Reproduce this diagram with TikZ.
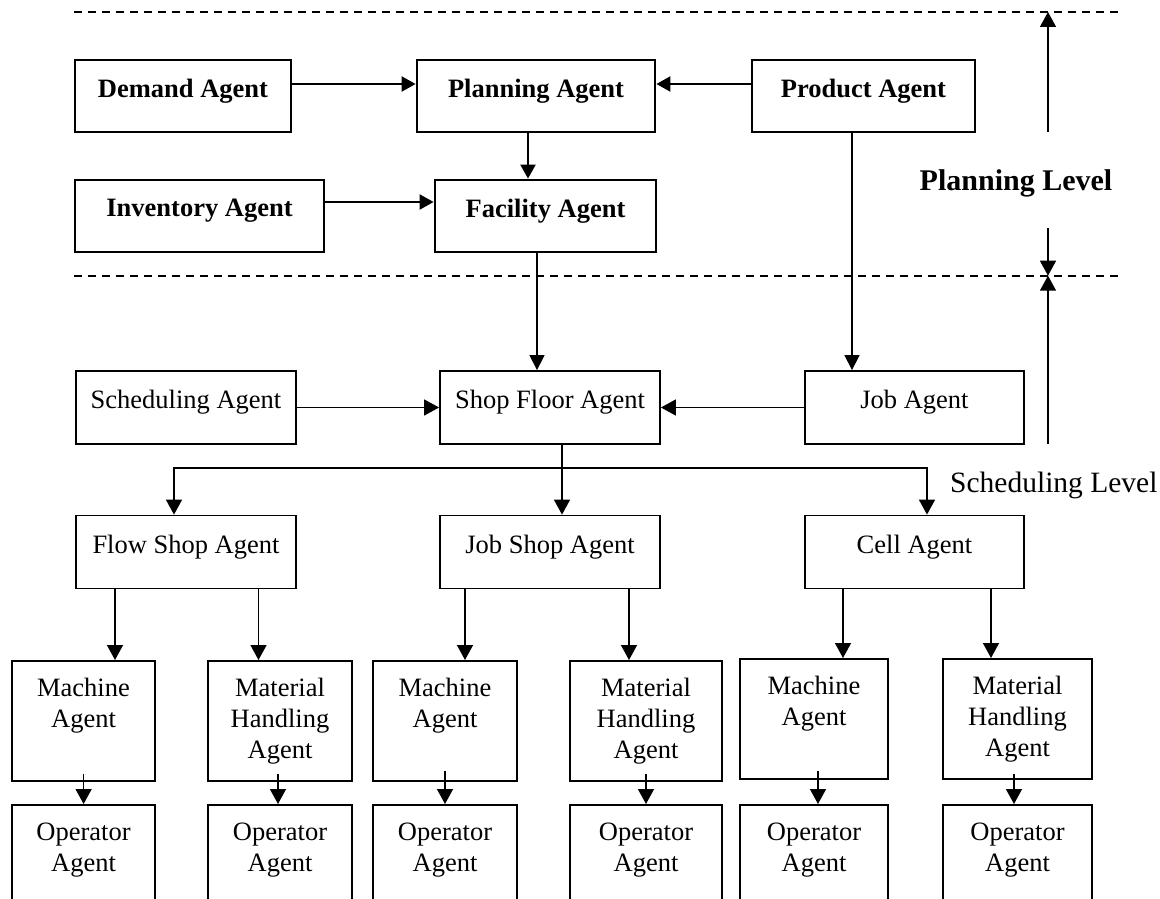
\documentclass[tikz,border=0pt]{standalone}
\usepackage{fontspec}
\setmainfont{Liberation Serif}
\usetikzlibrary{arrows.meta,calc}
\begin{document}
\begin{tikzpicture}[x=1pt,y=-1pt,
  pbox/.style={draw, line width=2.8pt, minimum height=72pt, inner sep=0pt},
  lbox/.style={draw, line width=1.8pt, minimum height=73pt, inner sep=0pt},
  mbox/.style={draw, line width=1.8pt, minimum height=120pt, inner sep=0pt, anchor=north},
  obox/.style={draw, line width=1.8pt, minimum height=140pt, inner sep=0pt, anchor=north},
  ptext/.style={anchor=north, inner sep=0pt, align=center, font=\bfseries\fontsize{26.5}{31}\selectfont},
  ltext/.style={anchor=north, inner sep=0pt, align=center, font=\fontsize{26.5}{31}\selectfont},
  parrow/.style={line width=2.2pt, -{Triangle[length=14pt,width=15pt]}},
  larrow/.style={line width=1.5pt, -{Triangle[length=15pt,width=16pt]}},
  tarrow/.style={line width=1.3pt, -{Triangle[length=15pt,width=15pt]}},
  lline/.style={line width=1.5pt},
  dline/.style={line width=1.7pt, dash pattern=on 8pt off 6pt},
]
\useasboundingbox (0,0) rectangle (1160,899);
\clip (0,0) rectangle (1160,899);

% level separators
\coordinate (t1) at (74,12);
\coordinate (t2) at (1120,12);
\coordinate (b1) at (74,275.7);
\coordinate (b2) at (1120,275.7);
\draw[dline] (t1) -- (t2);
\draw[dline] (b1) -- (b2);

% planning level boxes
\node[pbox, minimum width=216pt] (dem) at (183,96) {};
\node[pbox, minimum width=238pt] (pla) at (536,96) {};
\node[pbox, minimum width=223pt] (pro) at (863.5,96) {};
\node[pbox, minimum width=249pt] (inv) at (199.5,216) {};
\node[pbox, minimum width=221pt] (fac) at (545.5,216) {};
\node[ptext] (demT) at ([yshift=-20pt]dem.north) {Demand Agent};
\node[ptext] (plaT) at ([yshift=-20pt]pla.north) {Planning Agent};
\node[ptext] (proT) at ([yshift=-20pt]pro.north) {Product Agent};
\node[ptext] (invT) at ([yshift=-20pt]inv.north) {Inventory Agent};
\node[ptext] (facT) at ([yshift=-20pt]fac.north) {Facility Agent};

% scheduling level boxes
\node[lbox, minimum width=220pt] (sch) at (186,407.5) {};
\node[lbox, minimum width=220pt] (sho) at (550,407.5) {};
\node[lbox, minimum width=219pt] (job) at (914.5,407.5) {};
\node[lbox, minimum width=220pt] (flo) at (186,552) {};
\node[lbox, minimum width=220pt] (jsh) at (550,552) {};
\node[lbox, minimum width=219pt] (cel) at (914.5,552) {};
\node[ltext] (schT) at ([yshift=-20pt]sch.north) {Scheduling Agent};
\node[ltext] (shoT) at ([yshift=-20pt]sho.north) {Shop Floor Agent};
\node[ltext] (jobT) at ([yshift=-20pt]job.north) {Job Agent};
\node[ltext] (floT) at ([yshift=-20pt]flo.north) {Flow Shop Agent};
\node[ltext] (jshT) at ([yshift=-20pt]jsh.north) {Job Shop Agent};
\node[ltext] (celT) at ([yshift=-20pt]cel.north) {Cell Agent};

% machine / material handling boxes
\node[mbox, minimum width=143pt] (m1) at (83.5,660) {};
\node[mbox, minimum width=144pt] (h1) at (280,660) {};
\node[mbox, minimum width=144pt] (m2) at (445,660) {};
\node[mbox, minimum width=152pt] (h2) at (646,660) {};
\node[mbox, minimum width=148pt] (m3) at (814,658) {};
\node[mbox, minimum width=149pt] (h3) at (1017.5,658) {};
\node[ltext] (m1T) at ([yshift=-18pt]m1.north) {Machine\\Agent};
\node[ltext] (h1T) at ([yshift=-18pt]h1.north) {Material\\Handling\\Agent};
\node[ltext] (m2T) at ([yshift=-18pt]m2.north) {Machine\\Agent};
\node[ltext] (h2T) at ([yshift=-18pt]h2.north) {Material\\Handling\\Agent};
\node[ltext] (m3T) at ([yshift=-18pt]m3.north) {Machine\\Agent};
\node[ltext] (h3T) at ([yshift=-18pt]h3.north) {Material\\Handling\\Agent};

% operator boxes (cut off at the bottom)
\node[obox, minimum width=143pt] (o1) at (83.5,804) {};
\node[obox, minimum width=144pt] (o2) at (280,804) {};
\node[obox, minimum width=144pt] (o3) at (445,804) {};
\node[obox, minimum width=152pt] (o4) at (646,804) {};
\node[obox, minimum width=148pt] (o5) at (814,804) {};
\node[obox, minimum width=149pt] (o6) at (1017.5,804) {};
\node[ltext] (o1T) at ([yshift=-19pt]o1.north) {Operator\\Agent};
\node[ltext] (o2T) at ([yshift=-19pt]o2.north) {Operator\\Agent};
\node[ltext] (o3T) at ([yshift=-19pt]o3.north) {Operator\\Agent};
\node[ltext] (o4T) at ([yshift=-19pt]o4.north) {Operator\\Agent};
\node[ltext] (o5T) at ([yshift=-19pt]o5.north) {Operator\\Agent};
\node[ltext] (o6T) at ([yshift=-19pt]o6.north) {Operator\\Agent};

% planning level connectors
\draw[parrow] (dem.east |- 0,84) -- (pla.west |- 0,84);
\draw[parrow] (pro.west |- 0,84) -- (pla.east |- 0,84);
\draw[parrow] (inv.east |- 0,202) -- (fac.west |- 0,202);
\draw[parrow] (pla.south -| 528,0) -- (fac.north -| 528,0);

% planning to scheduling
\draw[tarrow] (fac.south -| 537,0) -- (sho.north -| 537,0);
\draw[tarrow] (pro.south -| 852,0) -- (job.north -| 852,0);
\draw[larrow] (sch.east) -- (sho.west);
\draw[larrow] (job.west) -- (sho.east);

% branch from shop floor
\coordinate (br) at (562,468);
\draw[lline] (sho.south -| br) -- (br);
\draw[larrow] (br) -| (flo.north -| 174,0);
\draw[larrow] (br) -- (jsh.north -| br);
\draw[larrow] (br) -| (cel.north -| 927,0);

% to machine / material handling
\draw[larrow] (flo.south -| 115,0) -- (m1.north -| 115,0);
\draw[larrow] (flo.south -| 258.5,0) -- (h1.north -| 258.5,0);
\draw[larrow] (jsh.south -| 465,0) -- (m2.north -| 465,0);
\draw[larrow] (jsh.south -| 629,0) -- (h2.north -| 629,0);
\draw[larrow] (cel.south -| 843,0) -- (m3.north -| 843,0);
\draw[larrow] (cel.south -| 991,0) -- (h3.north -| 991,0);

% to operators
\draw[larrow, shorten <=-8pt] (m1.south -| 83.6,0) -- (o1.north -| 83.6,0);
\draw[larrow, shorten <=-8pt] (h1.south -| 278,0) -- (o2.north -| 278,0);
\draw[larrow, shorten <=-11pt] (m2.south -| 445,0) -- (o3.north -| 445,0);
\draw[larrow, shorten <=-8pt] (h2.south -| 646,0) -- (o4.north -| 646,0);
\draw[larrow, shorten <=-9pt] (m3.south -| 818,0) -- (o5.north -| 818,0);
\draw[larrow, shorten <=-6pt] (h3.south -| 1014,0) -- (o6.north -| 1014,0);

% level labels and extent arrows
\node[font=\bfseries\fontsize{30}{36}\selectfont, inner sep=0pt] (plv) at (1016,183) {Planning Level};
\node[font=\fontsize{29.5}{35}\selectfont, inner sep=0pt, anchor=west] (slv) at (950,485) {Scheduling Level};
\coordinate (u1) at (1048,132);
\coordinate (u2) at (1048,228);
\coordinate (u3) at (1048,444);
\draw[larrow] (u1) -- (u1 |- t1);
\draw[larrow] (u2) -- (u2 |- b1);
\draw[larrow] (u3) -- (u3 |- b1);
\end{tikzpicture}
\end{document}
